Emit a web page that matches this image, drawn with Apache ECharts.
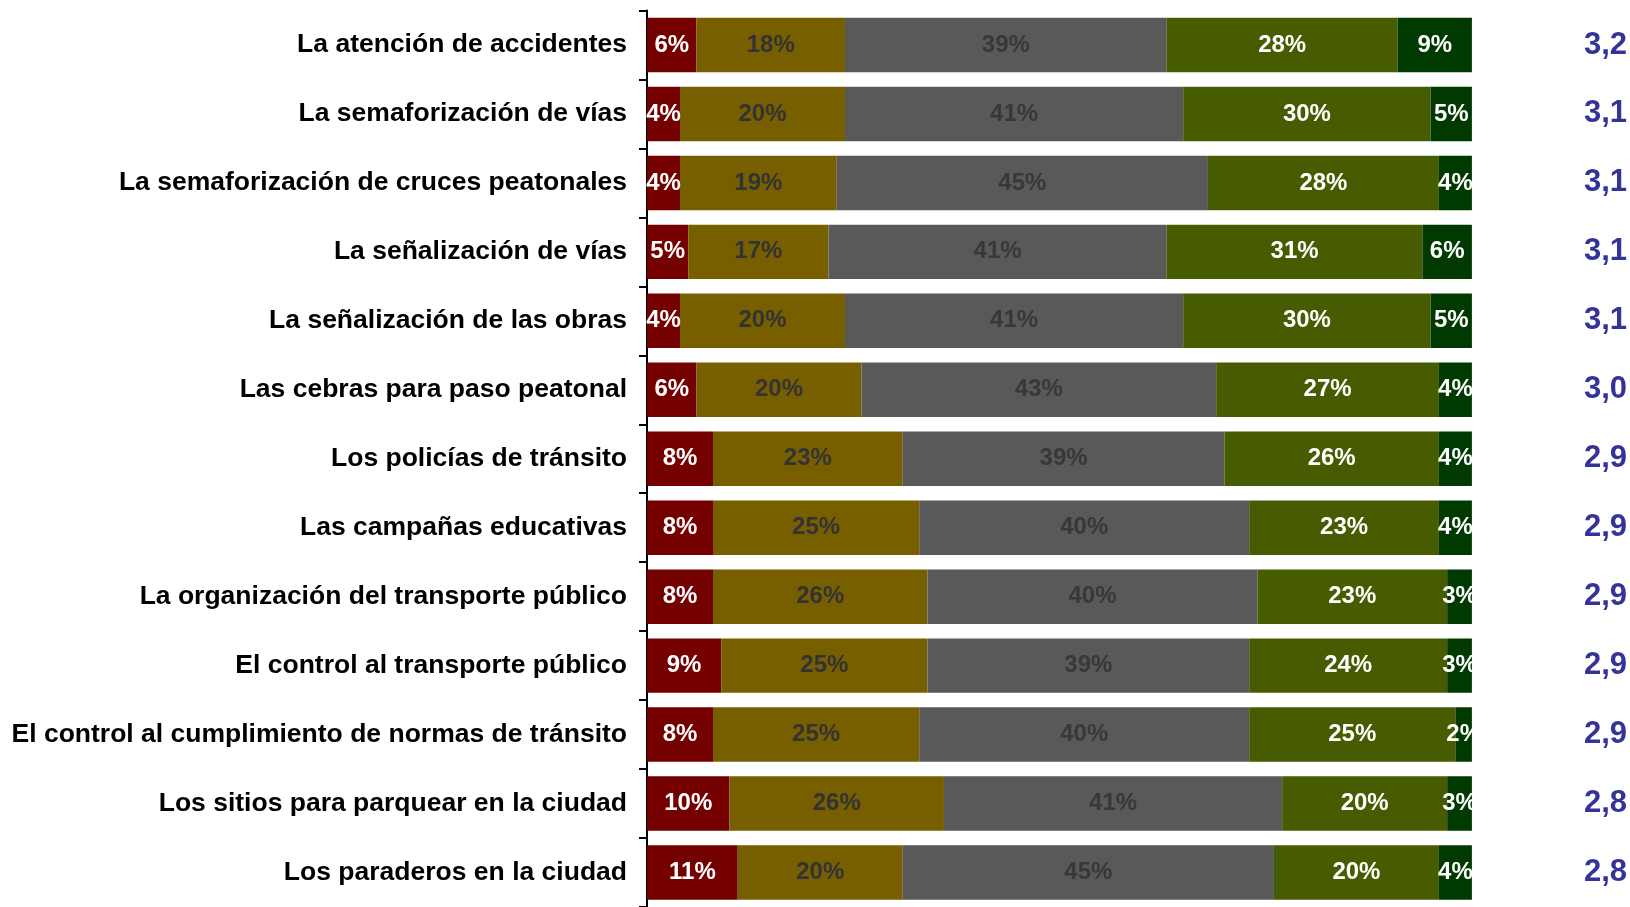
<!DOCTYPE html>
<html>
<head>
<meta charset="utf-8">
<script src="https://cdn.jsdelivr.net/npm/echarts@6/dist/echarts.min.js"></script>
<style>html,body{margin:0;padding:0;background:#fff;}#c{width:1630px;height:907px;}</style>
</head>
<body>
<div id="c"></div>
<script>
var categories = [
  'La atención de accidentes',
  'La semaforización de vías',
  'La semaforización de cruces peatonales',
  'La señalización de vías',
  'La señalización de las obras',
  'Las cebras para paso peatonal',
  'Los policías de tránsito',
  'Las campañas educativas',
  'La organización del transporte público',
  'El control al transporte público',
  'El control al cumplimiento de normas de tránsito',
  'Los sitios para parquear en la ciudad',
  'Los paraderos en la ciudad'
];
var muyMalo  = [6, 4, 4, 5, 4, 6, 8, 8, 8, 9, 8, 10, 11];
var malo     = [18, 20, 19, 17, 20, 20, 23, 25, 26, 25, 25, 26, 20];
var regular  = [39, 41, 45, 41, 41, 43, 39, 40, 40, 39, 40, 41, 45];
var bueno    = [28, 30, 28, 31, 30, 27, 26, 23, 23, 24, 25, 20, 20];
var muyBueno = [9, 5, 4, 6, 5, 4, 4, 4, 3, 3, 2, 3, 4];
var promedio = ['3,2', '3,1', '3,1', '3,1', '3,1', '3,0', '2,9', '2,9', '2,9', '2,9', '2,9', '2,8', '2,8'];

var FONT = '"Liberation Sans", Arial, sans-serif';
function mk(name, data, color, labelColor) {
  return {
    name: name, type: 'bar', stack: 'total', data: data,
    barCategoryGap: '21%',
    itemStyle: { color: color },
    label: {
      show: true, position: 'inside', formatter: '{c}%',
      color: labelColor, fontSize: 24, fontWeight: 'bold', fontFamily: FONT
    }
  };
}
var chart = echarts.init(document.getElementById('c'), null, { renderer: 'canvas' });
chart.setOption({
  animation: false,
  backgroundColor: '#ffffff',
  grid: { left: 647, top: 10.5, width: 826, height: 900, containLabel: false },
  xAxis: { type: 'value', min: 0, max: 100, show: false },
  yAxis: [
    {
      type: 'category', inverse: true, data: categories, position: 'left',
      axisLine: { show: true, lineStyle: { color: '#000', width: 2 } },
      axisTick: { show: true, length: 8, lineStyle: { color: '#000', width: 2 } },
      axisLabel: { color: '#000', fontSize: 26.5, fontWeight: 'bold', fontFamily: FONT, margin: 20 },
      splitLine: { show: false }
    },
    {
      type: 'category', inverse: true, data: promedio, position: 'right',
      axisLine: { show: false }, axisTick: { show: false },
      axisLabel: { color: '#333399', fontSize: 31, fontWeight: 'bold', fontFamily: FONT, margin: 112, align: 'left' },
      splitLine: { show: false }
    }
  ],
  series: [
    mk('Muy malo', muyMalo, '#750000', '#ffffff'),
    mk('Malo', malo, '#775F00', '#333333'),
    mk('Regular', regular, '#595959', '#383838'),
    mk('Bueno', bueno, '#475B00', '#ffffff'),
    mk('Muy bueno', muyBueno, '#003A00', '#ffffff')
  ]
});
</script>
</body>
</html>
